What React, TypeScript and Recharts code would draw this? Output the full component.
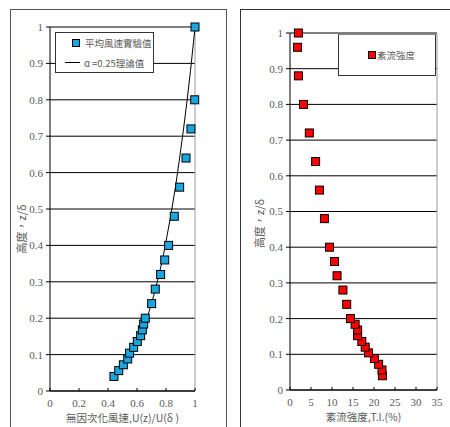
import React from "react"
import {
    ScatterChart,
    Scatter,
    XAxis,
    YAxis,
    CartesianGrid,
    Legend,
    ReferenceLine,
} from "recharts"

// measured mean wind speed profile
const heights = [0.04, 0.056, 0.072, 0.088, 0.104, 0.12, 0.136, 0.152, 0.168, 0.184, 0.2, 0.24, 0.28, 0.32, 0.36, 0.4, 0.48, 0.56, 0.64, 0.72, 0.8, 1.0]
const speedRatio = [0.441, 0.474, 0.506, 0.536, 0.549, 0.577, 0.602, 0.625, 0.637, 0.646, 0.657, 0.701, 0.726, 0.763, 0.791, 0.818, 0.857, 0.894, 0.938, 0.972, 0.998, 1.0]

// alpha = 0.25 power-law curve
const theoryHeights = [0.04, 0.056, 0.072, 0.088, 0.104, 0.12, 0.136, 0.152, 0.168, 0.184, 0.2, 0.24, 0.28, 0.32, 0.36, 0.4, 0.48, 0.56, 0.64, 0.72, 0.8, 0.88, 0.96, 1.0]
const theorySpeed = [0.447, 0.486, 0.518, 0.545, 0.568, 0.589, 0.607, 0.624, 0.64, 0.655, 0.669, 0.7, 0.727, 0.752, 0.775, 0.795, 0.832, 0.865, 0.894, 0.921, 0.946, 0.969, 0.99, 1.0]

// turbulence intensity profile
const tiHeights = [0.04, 0.056, 0.072, 0.088, 0.104, 0.12, 0.136, 0.152, 0.168, 0.184, 0.2, 0.24, 0.28, 0.32, 0.36, 0.4, 0.48, 0.56, 0.64, 0.72, 0.8, 0.88, 0.96, 1.0]
const tiValues = [22.0, 21.9, 21.1, 20.1, 18.7, 17.9, 17.1, 16.1, 16.1, 15.5, 14.4, 13.5, 12.6, 11.2, 10.6, 9.4, 8.2, 7.0, 6.1, 4.6, 3.2, 2.0, 1.8, 2.0]

const yTicks = [0, 0.1, 0.2, 0.3, 0.4, 0.5, 0.6, 0.7, 0.8, 0.9, 1]
const uTicks = [0, 0.2, 0.4, 0.6, 0.8, 1]
const tiTicks = [0, 5, 10, 15, 20, 25, 30, 35]

const measured = heights.map((z, i) => ({ u: speedRatio[i], z }))
const theory = theoryHeights.map((z, i) => ({ u: theorySpeed[i], z }))
const turbulence = tiHeights.map((z, i) => ({ ti: tiValues[i], z }))

const serif = "'Liberation Serif', serif"
const cjk = "'Noto Sans CJK TC', sans-serif"
const textGray = "#595959"
const tickStyle = { fill: textGray, fontSize: 11, fontFamily: serif }

const square = (fill: string) => (props: any) => (
    <rect
        x={props.cx - 4}
        y={props.cy - 4}
        width={8}
        height={8}
        fill={fill}
        stroke="#000"
        strokeWidth={1}
    />
)

const noDot = () => <g />

const yTitle = (dx: number, dy: number) => (props: any) => {
    const vb = props.viewBox
    const cx = vb.x + dx
    const cy = vb.y + vb.height / 2 + dy
    return (
        <text
            x={cx}
            y={cy}
            transform={`rotate(-90 ${cx} ${cy})`}
            textAnchor="middle"
            dominantBaseline="central"
            fill={textGray}
            fontSize={11}
            fontFamily={cjk}
        >
            高度，z/δ
        </text>
    )
}

function LeftLegend() {
    return (
        <div
            style={{
                width: 97,
                height: 39,
                border: "1px solid #333",
                background: "#fff",
                fontFamily: cjk,
                fontSize: 9.5,
                color: textGray,
                boxSizing: "content-box",
            }}
        >
            <div style={{ display: "flex", alignItems: "center", height: 20, paddingLeft: 16 }}>
                <span style={{ width: 6, height: 6, background: "#1ba6e0", border: "1px solid #000", marginRight: 5 }} />
                平均風速實驗值
            </div>
            <div style={{ display: "flex", alignItems: "center", height: 19, paddingLeft: 9 }}>
                <span style={{ width: 15, height: 1, background: "#000", marginRight: 4 }} />
                α =0.25理論值
            </div>
        </div>
    )
}

function RightLegend() {
    return (
        <div
            style={{
                width: 98,
                height: 42,
                border: "1px solid #333",
                borderTopColor: "#888",
                background: "#fff",
                fontFamily: cjk,
                fontSize: 9.5,
                color: textGray,
                display: "flex",
                alignItems: "center",
                paddingLeft: 29,
                boxSizing: "border-box",
            }}
        >
            <span style={{ width: 6, height: 6, background: "#ff0000", border: "1px solid #000", marginRight: 1 }} />
            紊流強度
        </div>
    )
}

export default function App() {
    return (
        <div style={{ position: "fixed", left: 0, top: 0, width: 450, height: 427, background: "#fff", overflow: "hidden" }}>
            <div style={{ position: "absolute", left: 10, top: 9, width: 215, height: 430, border: "1px solid #555" }} />
            <div style={{ position: "absolute", left: 240, top: 9, width: 230, height: 430, border: "1px solid #333" }} />

            <div style={{ position: "absolute", left: 0, top: 0 }}>
                <ScatterChart width={226} height={427} margin={{ top: 27, right: 31, bottom: 0, left: 0 }}>
                    <CartesianGrid vertical={false} stroke="#000" strokeWidth={1} />
                    <ReferenceLine x={1} stroke="#9a9a9a" />
                    <XAxis
                        type="number"
                        dataKey="u"
                        domain={[0, 1]}
                        ticks={uTicks}
                        height={36}
                        stroke="#000"
                        tickSize={-3}
                        tickMargin={11}
                        tick={tickStyle}
                        label={{ value: "無因次化風速,U(z)/U(δ )", position: "insideBottom", offset: 5, fill: textGray, fontSize: 10.5, fontFamily: cjk }}
                    />
                    <YAxis
                        type="number"
                        dataKey="z"
                        domain={[0, 1]}
                        ticks={yTicks}
                        width={50}
                        stroke="#000"
                        tickSize={4}
                        tickMargin={3}
                        tick={tickStyle}
                        label={yTitle(21, 20)}
                    />
                    <Legend
                        verticalAlign="middle"
                        align="center"
                        layout="horizontal"
                        content={() => <LeftLegend />}
                        wrapperStyle={{ position: "absolute", left: 55, top: 32, width: 99, bottom: "auto" }}
                    />
                    <Scatter
                        name="α =0.25理論值"
                        data={theory}
                        line={{ stroke: "#000", strokeWidth: 1 }}
                        shape={noDot}
                        isAnimationActive={false}
                    />
                    <Scatter
                        name="平均風速實驗值"
                        data={measured}
                        shape={square("#1ba6e0")}
                        isAnimationActive={false}
                    />
                </ScatterChart>
            </div>

            <div style={{ position: "absolute", left: 240, top: 0 }}>
                <ScatterChart width={210} height={427} margin={{ top: 33, right: 13, bottom: 0, left: 0 }}>
                    <CartesianGrid vertical={false} stroke="#000" strokeWidth={1} />
                    <ReferenceLine x={35} stroke="#9a9a9a" />
                    <XAxis
                        type="number"
                        dataKey="ti"
                        domain={[0, 35]}
                        ticks={tiTicks}
                        height={37}
                        stroke="#000"
                        tickSize={-3}
                        tickMargin={11}
                        tick={tickStyle}
                        label={{ value: "紊流強度,T.I.(%)", position: "insideBottom", offset: 6, fill: textGray, fontSize: 10.5, fontFamily: cjk }}
                    />
                    <YAxis
                        type="number"
                        dataKey="z"
                        domain={[0, 1]}
                        ticks={yTicks}
                        width={50}
                        stroke="#000"
                        tickSize={4}
                        tickMargin={3}
                        tick={tickStyle}
                        label={yTitle(19, 12)}
                    />
                    <Legend
                        verticalAlign="middle"
                        align="center"
                        layout="horizontal"
                        content={() => <RightLegend />}
                        wrapperStyle={{ position: "absolute", left: 98, top: 34, width: 98, bottom: "auto" }}
                    />
                    <Scatter
                        name="紊流強度"
                        data={turbulence}
                        shape={square("#ff0000")}
                        isAnimationActive={false}
                    />
                </ScatterChart>
            </div>
        </div>
    )
}
